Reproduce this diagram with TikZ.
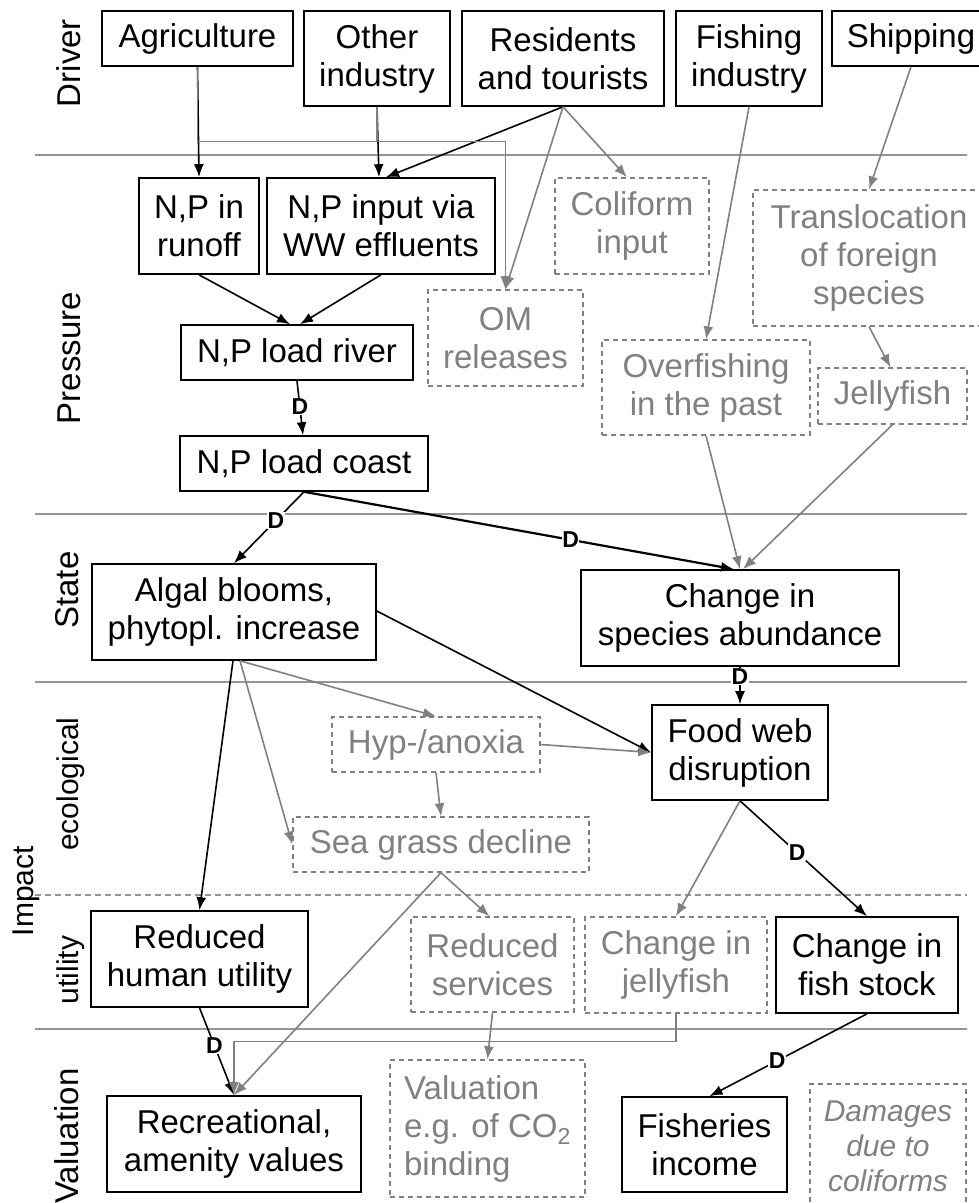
\documentclass[tikz,border=0pt]{standalone}
\usepackage{fontspec}
\setmainfont{Liberation Sans}
\usetikzlibrary{arrows.meta}
\definecolor{gtxt}{RGB}{128,128,128}
\definecolor{gline}{RGB}{128,128,128}
\definecolor{sepc}{RGB}{150,150,150}
\begin{document}
\begin{tikzpicture}[x=1pt,y=-1pt,
  bx/.style={draw=black, line width=1.6pt, inner sep=0pt, align=center,
    font=\fontsize{33pt}{38pt}\selectfont},
  gbx/.style={draw=gline, line width=1.3pt, dash pattern=on 5pt off 4pt,
    text=gtxt, inner sep=0pt, align=center,
    font=\fontsize{33pt}{38pt}\selectfont},
  blk/.style={draw=black, line width=1.6pt, -{Latex[length=13pt,width=10pt]}},
  gry/.style={draw=gline, line width=1.6pt, -{Latex[length=13pt,width=10pt]}},
  dl/.style={font=\bfseries\fontsize{23pt}{23pt}\selectfont, fill=white,
    inner sep=0.5pt, text=black},
  sep/.style={draw=sepc, line width=1.4pt},
  rowlab/.style={rotate=90, anchor=base, inner sep=0pt,
    font=\fontsize{33pt}{38pt}\selectfont},
  sublab/.style={rotate=90, anchor=base, inner sep=0pt,
    font=\fontsize{30pt}{35pt}\selectfont},
]
\useasboundingbox (0,0) rectangle (978,1203);

% band separators
\draw[sep] (35,155) -- (967,155);
\draw[sep] (35,514) -- (967,514);
\draw[sep] (35,682) -- (967,682);
\draw[sep, dash pattern=on 6pt off 4pt] (35,895) -- (967,895);
\draw[sep] (35,1029) -- (967,1029);

% row labels
\node[rowlab] (lDriver) at (80,63) {Driver};
\node[rowlab] (lPressure) at (80,358) {Pressure};
\node[rowlab] (lState) at (78,590) {State};
\node[sublab] (lEco) at (78,784) {ecological};
\node[sublab] (lImpact) at (33,891) {Impact};
\node[sublab] (lUtil) at (78,970) {utility};
\node[rowlab] (lVal) at (78,1136) {Valuation};

% drivers
\node[bx, minimum width=191pt, minimum height=55pt] (agri) at (197.5,38.5) {Agriculture};
\node[bx, minimum width=146pt, minimum height=95pt] (other) at (377,58.5) {Other\\industry};
\node[bx, minimum width=202pt, minimum height=95pt] (resid) at (563,58.5) {Residents\\and tourists};
\node[bx, minimum width=146pt, minimum height=95pt] (fishind) at (749,58.5) {Fishing\\industry};
\node[bx, minimum width=158pt, minimum height=55pt] (ship) at (911,38.5) {Shipping};

% pressures
\node[bx, minimum width=120pt, minimum height=96pt] (runoff) at (199,226) {N,P in\\runoff};
\node[bx, minimum width=228pt, minimum height=96pt] (ww) at (381,226) {N,P input via\\WW effluents};
\node[gbx, minimum width=154pt, minimum height=96pt] (coli) at (632,226) {Coliform\\input};
\node[gbx, minimum width=232pt, minimum height=136pt] (transl) at (869,258) {Translocation\\of foreign\\species};
\node[bx, minimum width=232pt, minimum height=55pt] (river) at (297,352.5) {N,P load river};
\node[gbx, minimum width=155pt, minimum height=96pt] (om) at (505.5,338) {OM\\releases};
\node[gbx, minimum width=208pt, minimum height=95pt] (overf) at (706,387.5) {Overfishing\\in the past};
\node[gbx, minimum width=149pt, minimum height=56pt] (jelly) at (892.5,396) {Jellyfish};
\node[bx, minimum width=248pt, minimum height=55pt] (coast) at (304,463.5) {N,P load coast};

% state
\node[bx, minimum width=284pt, minimum height=96pt] (algal) at (234,612) {Algal blooms,\\phytopl. increase};
\node[bx, minimum width=318pt, minimum height=96pt] (species) at (740,618) {Change in\\species abundance};

% ecological impact
\node[gbx, minimum width=208pt, minimum height=55pt] (hyp) at (436,744.5) {Hyp-/anoxia};
\node[bx, minimum width=176pt, minimum height=95pt] (food) at (740,752.5) {Food web\\disruption};
\node[gbx, minimum width=296pt, minimum height=55pt] (sea) at (441,844.5) {Sea grass decline};

% utility impact
\node[bx, minimum width=217pt, minimum height=96pt] (rhu) at (199.5,959) {Reduced\\human utility};
\node[gbx, minimum width=163pt, minimum height=95pt] (rserv) at (492.5,964.5) {Reduced\\services};
\node[gbx, minimum width=182pt, minimum height=96pt] (cjelly) at (676,965) {Change in\\jellyfish};
\node[bx, minimum width=182pt, minimum height=96pt] (cfish) at (867,965) {Change in\\fish stock};

% valuation
\node[bx, minimum width=254pt, minimum height=96pt] (recr) at (234,1144) {Recreational,\\amenity values};
\node[gbx, align=left, minimum width=195pt, minimum height=137pt] (valco) at (487.5,1128.5) {Valuation\\e.g. of CO\textsubscript{2}\\binding};
\node[bx, minimum width=165pt, minimum height=95pt] (fishinc) at (704.5,1144.5) {Fisheries\\income};
\node[gbx, minimum width=156pt, minimum height=124pt,
  font=\itshape\fontsize{30pt}{35pt}\selectfont] (damage) at (888,1146) {Damages\\due to\\coliforms};

% driver -> pressure
\draw[blk] (agri.south) -- (runoff.north);
\draw[blk] (other.south) -- ([xshift=-2pt]ww.north);
\draw[blk] (resid.south) -- ([xshift=5pt]ww.north);
\draw[gry, line width=1.3pt] (agri.south) -- ++(0,75) -| (om.north);
\draw[gry, line width=1.3pt] (other.south) -- ++(0,35) -| (om.north);
\draw[gry] (resid.south) -- (om.north);
\draw[gry] (resid.south) -- ([xshift=-5pt]coli.north);
\draw[gry] (fishind.south) -- (overf.north);
\draw[gry] (ship.south) -- (transl.north);
\draw[gry] (transl.south) -- ([xshift=-2pt]jelly.north);

% pressure chain
\draw[blk] (runoff.south) -- ([xshift=-7pt]river.north);
\draw[blk] (ww.south) -- ([xshift=3pt]river.north);
\draw[blk] (river.south) -- node[dl, pos=0.48] (d1) {D} ([xshift=6pt]river.south |- coast.north);
\draw[blk] (coast.south) -- node[dl, pos=0.4] (d2) {D} (algal.north);
\draw[blk, line width=2.2pt] (coast.south) -- node[dl, pos=0.62] (d3) {D} ([xshift=-6pt]species.north);
\draw[gry] (overf.south) -- (species.north);
\draw[gry] (jelly.south) -- ([xshift=3pt]species.north);

% state -> impacts
\draw[blk] (species.south) -- node[dl, pos=0.25] (d4) {D} (food.north);
\draw[blk] ([yshift=1pt]algal.east) -- (food.west);
\draw[gry] ([xshift=6pt]algal.south) -- (hyp.north);
\draw[gry] ([xshift=6pt]algal.south) -- (sea.west);
\draw[blk] ([xshift=-1pt]algal.south) -- (rhu.north);
\draw[gry] (hyp.east) -- (food.west);
\draw[gry] (hyp.south) -- (sea.north);
\draw[gry] (sea.south) -- ([xshift=-3pt]rserv.north);
\draw[gry] (sea.south) -- (recr.north);
\draw[gry] (food.south) -- (cjelly.north);
\draw[blk] (food.south) -- node[dl, pos=0.45] (d5) {D} (cfish.north);

% impacts -> valuation
\draw[blk] (rhu.south) -- node[dl, pos=0.43] (d6) {D} (recr.north);
\draw[gry] (cjelly.south) -- ++(0,28) -| (recr.north);
\draw[gry] (rserv.south) -- (valco.north);
\draw[blk] (cfish.south) -- node[dl, pos=0.57] (d7) {D} ([xshift=5pt]fishinc.north);
\end{tikzpicture}
\end{document}
